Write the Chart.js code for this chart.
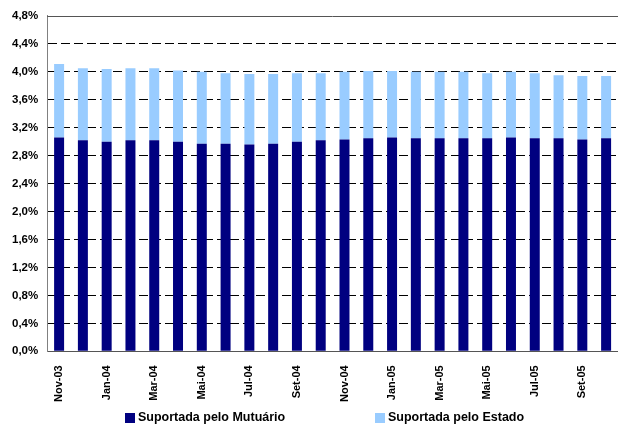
<!DOCTYPE html>
<html>
<head>
<meta charset="utf-8">
<script src="https://cdn.jsdelivr.net/npm/chart.js@4"></script>
<style>
  body { margin: 0; background: #fff; }
  #wrap { width: 618px; height: 425px; }
</style>
</head>
<body>
<div id="wrap"><canvas id="myChart"></canvas></div>
<script>
// meses (Nov-03 a Out-05)
const meses = ['Nov-03', 'Dez-03', 'Jan-04', 'Fev-04', 'Mar-04', 'Abr-04', 'Mai-04', 'Jun-04',
  'Jul-04', 'Ago-04', 'Set-04', 'Out-04', 'Nov-04', 'Dez-04', 'Jan-05', 'Fev-05',
  'Mar-05', 'Abr-05', 'Mai-05', 'Jun-05', 'Jul-05', 'Ago-05', 'Set-05', 'Out-05'];

// taxa suportada pelo mutuário (%)
const mutuario = [3.06, 3.02, 3.00, 3.02, 3.02, 3.00, 2.97, 2.97, 2.96, 2.97, 3.00, 3.02,
  3.03, 3.05, 3.06, 3.05, 3.05, 3.05, 3.05, 3.06, 3.05, 3.05, 3.03, 3.05];

// taxa suportada pelo estado (%)
const estado = [1.05, 1.03, 1.04, 1.03, 1.03, 1.02, 1.03, 1.01, 1.01, 1.00, 0.98, 0.96,
  0.97, 0.96, 0.95, 0.95, 0.95, 0.95, 0.93, 0.94, 0.93, 0.90, 0.91, 0.89];

const yMax = 4.8;
const yStep = 0.4;

const fonte = 'Liberation Sans, Arial, sans-serif';

// linha superior do gráfico
const topLine = {
  id: 'topLine',
  afterDatasetsDraw(chart) {
    const a = chart.chartArea;
    const c = chart.ctx;
    c.save();
    c.strokeStyle = '#555';
    c.lineWidth = 1;
    c.beginPath();
    c.moveTo(a.left, Math.round(a.top) + 0.5);
    c.lineTo(a.right, Math.round(a.top) + 0.5);
    c.stroke();
    c.restore();
  }
};

// legenda em baixo (caixa + texto para cada série)
const legenda = {
  id: 'legenda',
  afterDraw(chart) {
    const c = chart.ctx;
    const pos = [125, 375];
    const y = 418;
    c.save();
    c.font = 'bold 12.5px ' + fonte;
    c.textBaseline = 'middle';
    c.textAlign = 'left';
    chart.data.datasets.forEach(function (ds, i) {
      c.fillStyle = ds.backgroundColor;
      c.fillRect(pos[i], y - 5, 10, 10);
      c.fillStyle = '#000';
      c.fillText(ds.label, pos[i] + 13, y);
    });
    c.restore();
  }
};

const ctx = document.getElementById('myChart');

const myChart = new Chart(ctx, {
  type: 'bar',
  data: {
    labels: meses,
    datasets: [{
      label: 'Suportada pelo Mutuário',
      data: mutuario,
      backgroundColor: '#000080',
      barPercentage: 0.42,
      categoryPercentage: 1
    }, {
      label: 'Suportada pelo Estado',
      data: estado,
      backgroundColor: '#99CCFF',
      barPercentage: 0.42,
      categoryPercentage: 1
    }]
  },
  plugins: [topLine, legenda],
  options: {
    responsive: true,
    maintainAspectRatio: false,
    animation: false,
    layout: { padding: { left: 3, top: 10, right: -3, bottom: 17 } },
    plugins: {
      tooltip: { enabled: false },
      legend: { display: false }
    },
    scales: {
      x: {
        stacked: true,
        grid: { display: false },
        border: { display: true, color: '#555' },
        // a última coluna vai até à margem direita
        afterFit: function (scale) { scale.paddingRight = -3; },
        ticks: {
          autoSkip: false,
          maxRotation: 90,
          minRotation: 90,
          padding: 6,
          color: '#000',
          font: { family: fonte, size: 11, weight: 'bold' },
          callback: function (v, i) { return i % 2 === 0 ? meses[i] : ''; }
        }
      },
      y: {
        stacked: true,
        min: 0,
        max: yMax,
        border: { display: true, color: '#808080', dash: [9, 4] },
        grid: {
          drawTicks: false,
          color: function (c) {
            const v = c.tick ? c.tick.value : 0;
            return (v <= 0 || v >= yMax - 0.001) ? 'rgba(0,0,0,0)' : '#000';
          }
        },
        ticks: {
          stepSize: yStep,
          padding: 9,
          color: '#000',
          font: { family: fonte, size: 11.5, weight: 'bold' },
          callback: function (v) { return v.toFixed(1).replace('.', ',') + '%'; }
        }
      }
    }
  }
});
</script>
</body>
</html>
